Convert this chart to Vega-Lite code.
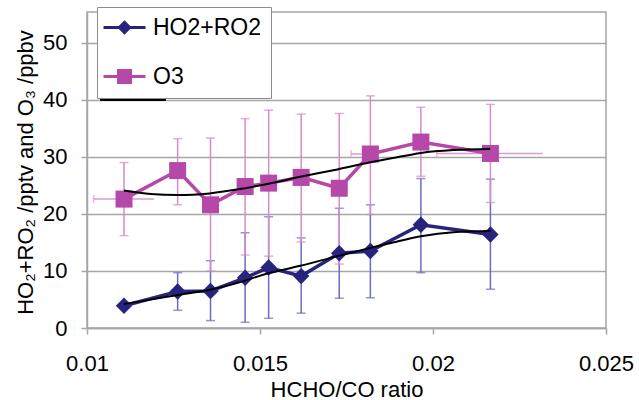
{
  "$schema": "https://vega.github.io/schema/vega-lite/v6.json",
  "width": 519,
  "height": 316,
  "autosize": {"type": "none"},
  "padding": {"left": 87, "top": 12, "right": 33, "bottom": 72},
  "background": "white",
  "config": {
    "font": "Liberation Sans",
    "view": {"stroke": "#a6a6a6", "strokeWidth": 1.5},
    "axis": {"labelColor": "black", "titleColor": "black", "titleFontWeight": "normal", "domainColor": "#a6a6a6", "tickColor": "#a6a6a6", "domainWidth": 1.5, "tickWidth": 1.5}
  },
  "datasets": {
    "pts": [
      {"series": "HO2+RO2", "x": 0.01107, "y": 3.9, "lo": null, "hi": null, "xlo": null, "xhi": null},
      {"series": "HO2+RO2", "x": 0.01262, "y": 6.4, "lo": 3.1, "hi": 9.7, "xlo": null, "xhi": null},
      {"series": "HO2+RO2", "x": 0.01357, "y": 6.5, "lo": 1.3, "hi": 11.8, "xlo": null, "xhi": null},
      {"series": "HO2+RO2", "x": 0.01457, "y": 8.8, "lo": 1.0, "hi": 16.7, "xlo": null, "xhi": null},
      {"series": "HO2+RO2", "x": 0.01525, "y": 10.6, "lo": 1.7, "hi": 19.5, "xlo": null, "xhi": null},
      {"series": "HO2+RO2", "x": 0.01619, "y": 9.1, "lo": 2.6, "hi": 15.8, "xlo": null, "xhi": null},
      {"series": "HO2+RO2", "x": 0.01729, "y": 13.1, "lo": 5.2, "hi": 21.0, "xlo": null, "xhi": null},
      {"series": "HO2+RO2", "x": 0.01819, "y": 13.5, "lo": 5.3, "hi": 21.6, "xlo": null, "xhi": null},
      {"series": "HO2+RO2", "x": 0.01965, "y": 18.1, "lo": 9.7, "hi": 26.2, "xlo": null, "xhi": null},
      {"series": "HO2+RO2", "x": 0.02166, "y": 16.4, "lo": 6.8, "hi": 26.1, "xlo": null, "xhi": null},
      {"series": "O3", "x": 0.01107, "y": 22.6, "lo": 16.2, "hi": 29.0, "xlo": 0.01019, "xhi": 0.01194},
      {"series": "O3", "x": 0.01262, "y": 27.6, "lo": 21.6, "hi": 33.2, "xlo": null, "xhi": null},
      {"series": "O3", "x": 0.01357, "y": 21.6, "lo": 10.0, "hi": 33.3, "xlo": null, "xhi": null},
      {"series": "O3", "x": 0.01457, "y": 24.8, "lo": 12.8, "hi": 36.7, "xlo": null, "xhi": null},
      {"series": "O3", "x": 0.01525, "y": 25.4, "lo": 12.6, "hi": 38.2, "xlo": null, "xhi": null},
      {"series": "O3", "x": 0.01619, "y": 26.4, "lo": 15.1, "hi": 37.5, "xlo": null, "xhi": null},
      {"series": "O3", "x": 0.01729, "y": 24.5, "lo": 11.2, "hi": 37.6, "xlo": null, "xhi": null},
      {"series": "O3", "x": 0.01819, "y": 30.5, "lo": 19.9, "hi": 40.7, "xlo": 0.01763, "xhi": 0.01819},
      {"series": "O3", "x": 0.01965, "y": 32.6, "lo": 26.6, "hi": 38.7, "xlo": null, "xhi": null},
      {"series": "O3", "x": 0.02166, "y": 30.6, "lo": 22.0, "hi": 39.2, "xlo": 0.02011, "xhi": 0.02317}
    ],
    "fit": [
      {"series": "HO2+RO2", "x": 0.011066, "y": 4.2},
      {"series": "HO2+RO2", "x": 0.012622, "y": 5.8},
      {"series": "HO2+RO2", "x": 0.013543, "y": 6.7},
      {"series": "HO2+RO2", "x": 0.014176, "y": 7.6},
      {"series": "HO2+RO2", "x": 0.015245, "y": 9.6},
      {"series": "HO2+RO2", "x": 0.016166, "y": 10.9},
      {"series": "HO2+RO2", "x": 0.017235, "y": 12.6},
      {"series": "HO2+RO2", "x": 0.018159, "y": 14.0},
      {"series": "HO2+RO2", "x": 0.018838, "y": 15.0},
      {"series": "HO2+RO2", "x": 0.019653, "y": 16.1},
      {"series": "HO2+RO2", "x": 0.020586, "y": 16.8},
      {"series": "HO2+RO2", "x": 0.021655, "y": 17.0},
      {"series": "O3", "x": 0.011066, "y": 24.1},
      {"series": "O3", "x": 0.011844, "y": 23.5},
      {"series": "O3", "x": 0.012622, "y": 23.3},
      {"series": "O3", "x": 0.013543, "y": 23.6},
      {"series": "O3", "x": 0.014466, "y": 24.4},
      {"series": "O3", "x": 0.015245, "y": 25.3},
      {"series": "O3", "x": 0.016166, "y": 26.5},
      {"series": "O3", "x": 0.017235, "y": 27.8},
      {"series": "O3", "x": 0.018159, "y": 29.0},
      {"series": "O3", "x": 0.018838, "y": 29.8},
      {"series": "O3", "x": 0.019653, "y": 30.7},
      {"series": "O3", "x": 0.020586, "y": 31.2},
      {"series": "O3", "x": 0.021655, "y": 31.4}
    ]
  },
  "encoding": {
    "x": {
      "field": "x", "type": "quantitative",
      "scale": {"domain": [0.01, 0.025], "nice": false, "zero": false},
      "axis": {
        "values": [0.01, 0.015, 0.02, 0.025], "format": "~g", "grid": false,
        "labelFontSize": 22, "tickSize": 6, "labelPadding": 19, "labelFlush": false, "labelOverlap": false,
        "title": "HCHO/CO ratio", "titleFontSize": 22, "titleY": 68, "titleBaseline": "alphabetic"
      }
    }
  },
  "layer": [
    {
      "data": {"name": "pts"},
      "transform": [{"filter": "datum.series === 'HO2+RO2' && isValid(datum.lo)"}],
      "mark": {"type": "rule", "color": "#6b6bc6", "strokeWidth": 1.5},
      "encoding": {
        "y": {
          "field": "lo", "type": "quantitative",
          "scale": {"domain": [0, 55.4], "nice": false, "zero": true},
          "axis": {
            "values": [0, 10, 20, 30, 40, 50], "grid": true, "gridColor": "#a6a6a6", "gridWidth": 1.5,
            "labelFontSize": 22, "tickSize": 6, "labelPadding": 14, "labelFlush": false, "labelOverlap": false,
            "title": "HO₂+RO₂ /pptv and O₃ /ppbv", "titleFontSize": 22, "titleX": -55, "titleY": 160,
            "titleAngle": 270, "titleAlign": "center", "titleBaseline": "alphabetic"
          }
        },
        "y2": {"field": "hi"}
      }
    },
    {
      "data": {"name": "pts"},
      "transform": [
        {"filter": "datum.series === 'HO2+RO2' && isValid(datum.lo)"},
        {"fold": ["lo", "hi"], "as": ["k", "v"]}
      ],
      "mark": {"type": "tick", "orient": "horizontal", "color": "#6b6bc6", "size": 9, "thickness": 1.5},
      "encoding": {"y": {"field": "v", "type": "quantitative"}}
    },
    {
      "data": {"name": "pts"},
      "transform": [{"filter": "datum.series === 'O3'"}],
      "mark": {"type": "rule", "color": "#d68bcc", "strokeWidth": 1.5},
      "encoding": {"y": {"field": "lo", "type": "quantitative"}, "y2": {"field": "hi"}}
    },
    {
      "data": {"name": "pts"},
      "transform": [
        {"filter": "datum.series === 'O3'"},
        {"fold": ["lo", "hi"], "as": ["k", "v"]}
      ],
      "mark": {"type": "tick", "orient": "horizontal", "color": "#d68bcc", "size": 9, "thickness": 1.5},
      "encoding": {"y": {"field": "v", "type": "quantitative"}}
    },
    {
      "data": {"name": "pts"},
      "transform": [{"filter": "datum.series === 'O3' && isValid(datum.xlo)"}],
      "mark": {"type": "rule", "color": "#dc9ad4", "strokeWidth": 1.5},
      "encoding": {
        "x": {"field": "xlo", "type": "quantitative"},
        "x2": {"field": "xhi"},
        "y": {"field": "y", "type": "quantitative"}
      }
    },
    {
      "data": {"name": "pts"},
      "transform": [{"filter": "datum.series === 'O3' && isValid(datum.xlo)"}],
      "mark": {"type": "tick", "orient": "vertical", "color": "#dc9ad4", "size": 8, "thickness": 1.5},
      "encoding": {
        "x": {"field": "xlo", "type": "quantitative"},
        "y": {"field": "y", "type": "quantitative"}
      }
    },
    {
      "data": {"name": "pts"},
      "transform": [{"filter": "datum.series === 'O3'"}],
      "mark": {"type": "line", "color": "#b548a8", "strokeWidth": 3.5},
      "encoding": {"y": {"field": "y", "type": "quantitative"}}
    },
    {
      "data": {"name": "pts"},
      "transform": [{"filter": "datum.series === 'O3'"}],
      "mark": {"type": "point", "shape": "square", "filled": true, "opacity": 1, "color": "#b548a8", "size": 289},
      "encoding": {"y": {"field": "y", "type": "quantitative"}}
    },
    {
      "data": {"name": "pts"},
      "transform": [{"filter": "datum.series === 'HO2+RO2'"}],
      "mark": {"type": "line", "color": "#27237f", "strokeWidth": 3.5},
      "encoding": {"y": {"field": "y", "type": "quantitative"}}
    },
    {
      "data": {"name": "pts"},
      "transform": [{"filter": "datum.series === 'HO2+RO2'"}],
      "mark": {"type": "point", "shape": "diamond", "filled": true, "opacity": 1, "color": "#27237f", "size": 270},
      "encoding": {"y": {"field": "y", "type": "quantitative"}}
    },
    {
      "data": {"name": "fit"},
      "mark": {"type": "line", "color": "black", "strokeWidth": 2, "interpolate": "monotone"},
      "encoding": {
        "y": {"field": "y", "type": "quantitative"},
        "detail": {"field": "series", "type": "nominal"}
      }
    },
    {
      "data": {"name": "pts"},
      "transform": [{"filter": "false"}],
      "mark": {"type": "point", "filled": true, "opacity": 1},
      "encoding": {
        "fill": {
          "field": "series", "type": "nominal",
          "scale": {"domain": ["HO2+RO2", "O3"], "range": ["#27237f", "#b548a8"]},
          "legend": {"title": null, "orient": "none", "legendX": 10, "legendY": -5, "padding": 9, "fillColor": "white", "strokeColor": "#8c8c8c", "symbolSize": 144, "symbolStrokeWidth": 3, "labelFontSize": 23, "labelFont": "Liberation Sans", "labelColor": "black", "rowPadding": 24, "symbolOffset": 7, "labelOffset": 17, "zindex": 1, "labelExpr": "datum.label + '  '"}
        },
        "stroke": {
          "field": "series", "type": "nominal",
          "scale": {"domain": ["HO2+RO2", "O3"], "range": ["#27237f", "#b548a8"]},
          "legend": {"title": null, "orient": "none", "legendX": 10, "legendY": -5, "padding": 9, "fillColor": "white", "strokeColor": "#8c8c8c", "symbolSize": 144, "symbolStrokeWidth": 3, "labelFontSize": 23, "labelFont": "Liberation Sans", "labelColor": "black", "rowPadding": 24, "symbolOffset": 7, "labelOffset": 17, "zindex": 1, "labelExpr": "datum.label + '  '"}
        },
        "shape": {
          "field": "series", "type": "nominal",
          "scale": {"domain": ["HO2+RO2", "O3"], "range": ["M-3.5,0H3.5M0,-0.85L0.85,0L0,0.85L-0.85,0Z", "M-3.5,0H3.5M-1,-1H1V1H-1Z"]},
          "legend": {"title": null, "orient": "none", "legendX": 10, "legendY": -5, "padding": 9, "fillColor": "white", "strokeColor": "#8c8c8c", "symbolSize": 144, "symbolStrokeWidth": 3, "labelFontSize": 23, "labelFont": "Liberation Sans", "labelColor": "black", "rowPadding": 24, "symbolOffset": 7, "labelOffset": 17, "zindex": 1, "labelExpr": "datum.label + '  '"}
        }
      }
    },
    {
      "data": {"name": "pts"},
      "transform": [{"filter": "false"}],
      "mark": {"type": "point", "filled": true, "opacity": 1},
      "encoding": {
        "strokeDash": {
          "field": "series", "type": "nominal",
          "scale": {"domain": ["s1", "s2"]},
          "legend": {"title": null, "orient": "none", "legendX": 13, "legendY": -2, "padding": 9, "fillColor": "black", "strokeColor": "black", "symbolSize": 144, "symbolOpacity": 0, "labelFontSize": 23, "labelFont": "Liberation Sans", "labelColor": "black", "rowPadding": 24, "symbolOffset": 7, "labelOffset": 17, "zindex": 0, "labelExpr": "datum.label === 's1' ? '                   ' : '       '"}
        }
      }
    }
  ]
}
